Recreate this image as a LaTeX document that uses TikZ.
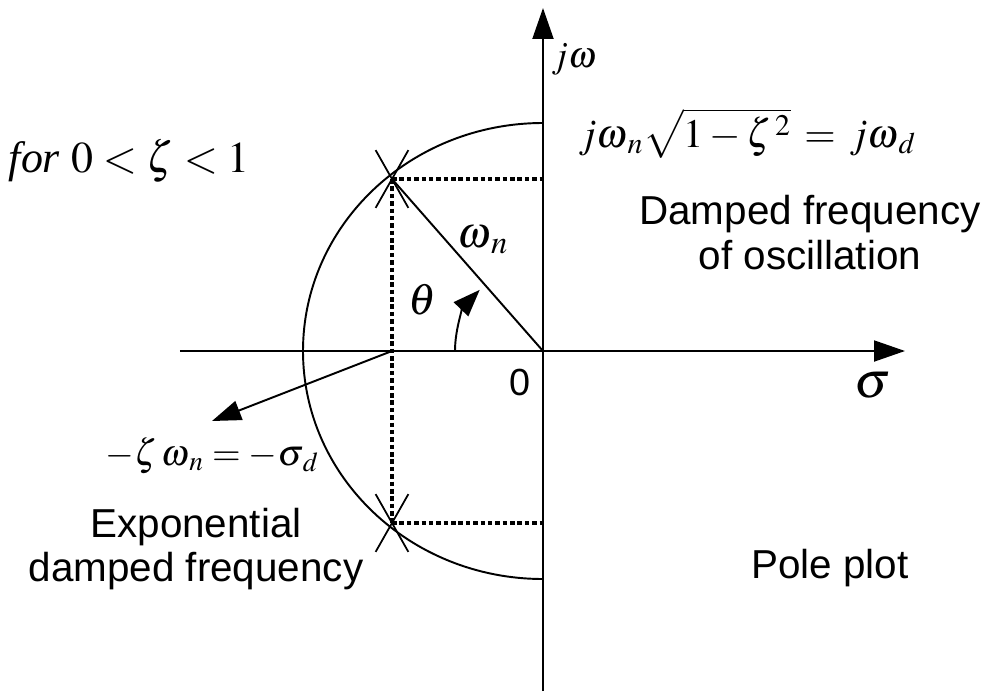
\documentclass[tikz,border=0pt]{standalone}
\usepackage{mathptmx}
\usepackage[no-math]{fontspec}
\setmainfont{Liberation Serif}
\newfontfamily\labelfont{Liberation Sans}
\usetikzlibrary{arrows.meta,shapes.misc}

\begin{document}
\begin{tikzpicture}[
  x=0.02cm, y=0.02cm,
  every node/.style={inner sep=0pt, font=\fontsize{25}{30}\selectfont},
  small math/.style={font=\fontsize{21}{25}\selectfont},
  axis/.style={draw, line width=1.1pt, -{Triangle[length=0.62cm, width=0.42cm]}},
  curve/.style={draw, line width=1.1pt},
  guide/.style={draw, line width=2pt, dash pattern=on 2.6pt off 1.6pt},
  pole/.style={cross out, draw, line width=1pt, minimum width=0.62cm, minimum height=1.12cm},
  note/.style={font=\labelfont\fontsize{23}{25.5}\selectfont, align=center}
]
\useasboundingbox (-543,-340) rectangle (458,351);

% axes
\coordinate (O) at (0,0);
\coordinate (sl) at (-363,0);
\coordinate (sr) at (362,0);
\coordinate (wb) at (0,-340);
\coordinate (wt) at (0,343);
\draw[axis] (sl) -- (sr);
\draw[axis] (wb) -- (wt);

% half circle of radius omega_n
\coordinate (ct) at (0,228);
\draw[curve] (ct) arc[start angle=90, end angle=270, x radius=240, y radius=228];

% poles
\node[pole] (pu) at (-151,172) {};
\node[pole] (pl) at (-151,-172) {};
\coordinate (du) at (0,172);
\coordinate (dl) at (0,-172);
\draw[guide] (pu.center) -- (du);
\draw[guide] (pu.center) -- (pl.center);
\draw[guide] (pl.center) -- (dl);
\draw[curve] (pu.center) -- (O);

% angle and decay arrows
\coordinate (ts) at (-88,0);
\draw[curve, -{Triangle[length=0.54cm, width=0.4cm]}] (ts) arc[start angle=180, end angle=136, radius=88];
\coordinate (sd) at (-151,0);
\coordinate (st) at (-331,-70);
\draw[curve, -{Triangle[length=0.58cm, width=0.4cm]}] (sd) -- (st);

% labels
\node[small math, anchor=base west] (jw) at (8,284) {$j\omega$};
\node[font=\fontsize{23}{27}\selectfont, anchor=base west] (wd) at (35,204) {$j\omega_{\,n}\sqrt{1-\zeta^{\,2}}\,=\,j\omega_{\,d}$};
\node[anchor=base east] (cond) at (-293,179) {\textit{for}\ $0<\zeta<1$};
\node[anchor=base west] (wn) at (-86,104) {$\omega_{\,n}$};
\node (th) at (-121,51) {$\theta$};
\node[small math, anchor=base west] (sg) at (-438,-114) {$-\zeta\,\omega_{\,n}=-\sigma_{\,d}$};
\node[note, font=\labelfont\fontsize{21.5}{24}\selectfont, anchor=base] (zero) at (-23,-44) {0};
\node[font=\fontsize{29}{30}\selectfont, anchor=base] (sig) at (330,-46) {$\sigma$};
\node[note] (osc) at (267,118.5) {Damped frequency\\of oscillation};
\node[note] (expo) at (-347,-198) {Exponential\\damped frequency};
\node[note, anchor=base] (pp) at (287,-227) {Pole plot};
\end{tikzpicture}
\end{document}
